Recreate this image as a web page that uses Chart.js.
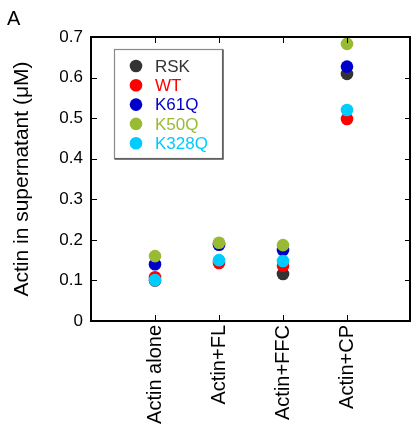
<!DOCTYPE html>
<html>
<head>
<meta charset="utf-8">
<style>
html,body{margin:0;padding:0;background:#fff;}
#wrap{width:412px;height:432px;position:relative;}
</style>
<script src="https://cdn.jsdelivr.net/npm/chart.js@4/dist/chart.umd.min.js"></script>
</head>
<body>
<div id="wrap"><canvas id="c" width="412" height="432"></canvas></div>
<script>
const categories = ['Actin alone', 'Actin+FL', 'Actin+FFC', 'Actin+CP'];
const seriesNames = ['RSK', 'WT', 'K61Q', 'K50Q', 'K328Q'];
const seriesColors = ['#333333', '#ff0000', '#0000cc', '#99bb33', '#00ccff'];
const rsk   = [0.100, 0.190, 0.116, 0.609];
const wt    = [0.108, 0.143, 0.136, 0.498];
const k61q  = [0.140, 0.188, 0.175, 0.627];
const k50q  = [0.160, 0.193, 0.187, 0.683];
const k328q = [0.101, 0.150, 0.148, 0.520];
const yTicks = [0, 0.1, 0.2, 0.3, 0.4, 0.5, 0.6, 0.7];

const seriesValues = [rsk, wt, k61q, k50q, k328q];
const FONT = '"Liberation Sans", Arial, sans-serif';

const datasets = seriesNames.map((name, i) => ({
  label: name,
  data: categories.map((c, j) => ({x: c, y: seriesValues[i][j]})),
  backgroundColor: seriesColors[i],
  borderColor: seriesColors[i],
  borderWidth: 0,
  pointRadius: 6.3,
  pointHoverRadius: 6.3,
  showLine: false,
  order: seriesNames.length - i
}));

const framePlugin = {
  id: 'frame',
  afterDraw(chart) {
    const ctx = chart.ctx;
    const a = chart.chartArea;
    const xs = chart.scales.x, ys = chart.scales.y;
    ctx.save();
    ctx.strokeStyle = '#000';
    ctx.lineWidth = 1;
    xs.ticks.forEach((t, i) => {
      if (!xs.getLabelForValue(t.value)) return;
      const px = Math.round(xs.getPixelForTick(i)) + 0.5;
      ctx.beginPath(); ctx.moveTo(px, a.bottom); ctx.lineTo(px, a.bottom - 6); ctx.stroke();
      ctx.beginPath(); ctx.moveTo(px, a.top); ctx.lineTo(px, a.top + 6); ctx.stroke();
    });
    ys.ticks.forEach((t, i) => {
      const py = Math.round(ys.getPixelForTick(i)) + 0.5;
      ctx.beginPath(); ctx.moveTo(a.left, py); ctx.lineTo(a.left + 6, py); ctx.stroke();
      ctx.beginPath(); ctx.moveTo(a.right, py); ctx.lineTo(a.right - 6, py); ctx.stroke();
    });
    ctx.lineWidth = 2;
    ctx.strokeRect(a.left, a.top, a.right - a.left - 1, a.bottom - a.top);
    ctx.fillStyle = '#000';
    ctx.font = '20px ' + FONT;
    ctx.textAlign = 'left';
    ctx.textBaseline = 'alphabetic';
    ctx.fillText('A', 7, 25);
    const lx = 114, ly = 49, lw = 108, lh = 109;
    ctx.fillStyle = '#fff';
    ctx.fillRect(lx, ly, lw, lh);
    ctx.strokeStyle = '#8a8a8a';
    ctx.lineWidth = 1.2;
    ctx.strokeRect(lx + 0.5, ly + 0.5, lw, lh);
    ctx.strokeStyle = '#555';
    ctx.lineWidth = 1.5;
    ctx.beginPath(); ctx.moveTo(lx + 0.5, ly + lh + 1); ctx.lineTo(lx + lw + 1, ly + lh + 1); ctx.lineTo(lx + lw + 1, ly + 0.5); ctx.stroke();
    ctx.font = '17px ' + FONT;
    ctx.textBaseline = 'middle';
    chart.data.datasets.forEach((ds, i) => {
      const cy = 66 + i * 19.3;
      ctx.fillStyle = ds.backgroundColor;
      ctx.beginPath(); ctx.arc(136, cy, 6.3, 0, Math.PI * 2); ctx.fill();
      ctx.fillText(ds.label, 155, cy + 1);
    });
    ctx.restore();
  }
};

new Chart(document.getElementById('c'), {
  type: 'scatter',
  data: { labels: ['', ...categories, ''], datasets },
  options: {
    responsive: false,
    animation: false,
    events: [],
    layout: { autoPadding: false, padding: { top: 37, right: 1, left: 0, bottom: 0 } },
    plugins: { legend: { display: false }, tooltip: { enabled: false } },
    scales: {
      x: {
        type: 'category',
        offset: false,
        grid: { display: false, drawTicks: false },
        border: { display: false },
        ticks: {
          autoSkip: false, minRotation: 90, maxRotation: 90, padding: 4,
          color: '#000', font: { family: FONT, size: 20 }
        },
        afterFit(s) { s.height = 111; s.paddingLeft = 0; s.paddingRight = 0; }
      },
      y: {
        min: 0, max: 0.7,
        afterBuildTicks(s) { s.ticks = yTicks.map(v => ({value: v})); },
        grid: { display: false, drawTicks: false },
        border: { display: false },
        ticks: {
          padding: 8, color: '#000', font: { family: FONT, size: 17 },
          callback: v => v === 0 ? '0' : v.toFixed(1)
        },
        title: {
          display: true, text: 'Actin in supernatant (\u03BCM)', color: '#000',
          font: { family: FONT, size: 21 }, padding: { top: 10, bottom: 0 }
        },
        afterFit(s) { s.width = 91; s.paddingTop = 0; s.paddingBottom = 0; }
      }
    }
  },
  plugins: [framePlugin]
});
</script>
</body>
</html>
